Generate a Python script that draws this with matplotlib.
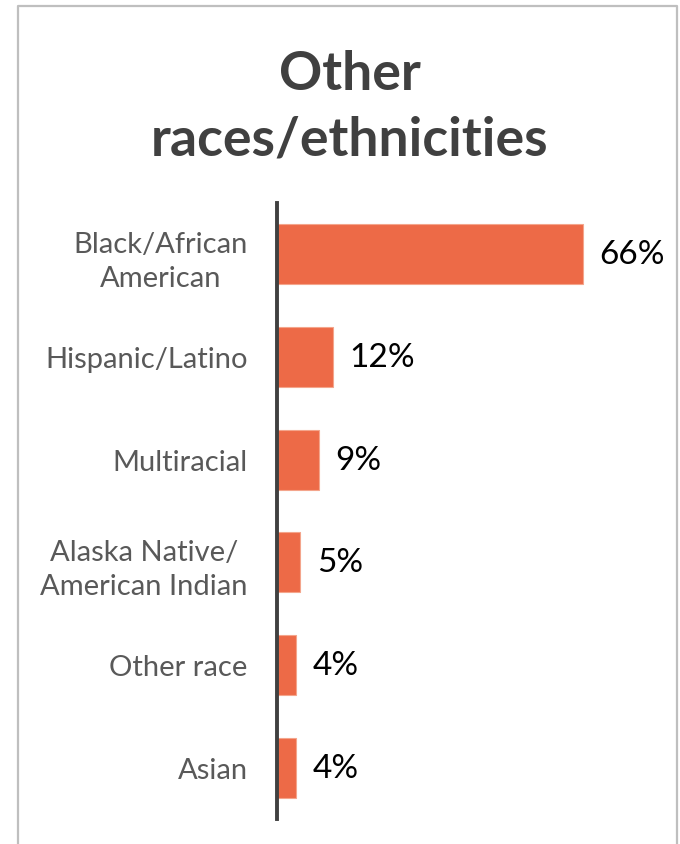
import matplotlib
matplotlib.use('Agg')
import matplotlib.pyplot as plt
from matplotlib.lines import Line2D

categories = ['Black/African\nAmerican', 'Hispanic/Latino', 'Multiracial',
              'Alaska Native/\nAmerican Indian', 'Other race', 'Asian']
values = [66, 12, 9, 5, 4, 4]
value_labels = ['66%', '12%', '9%', '5%', '4%', '4%']

plt.rcParams['font.family'] = ['Lato', 'DejaVu Sans']

W, H = 680, 845
fig = plt.figure(figsize=(W / 100, H / 100), dpi=100)

# light grey frame (no bottom edge)
x0, x1, y0 = 18 / W, 677 / W, 1 - 7 / H
fig.add_artist(Line2D([x0, x0, x1, x1], [0, y0, y0, 0], transform=fig.transFigure,
                      color='#BFBFBF', lw=1.6))

fig.text(350 / W, 1 - 90 / H, 'Other', ha='center', va='baseline',
         fontsize=38.5, fontweight='bold', color='#404040')
fig.text(350 / W, 1 - 156 / H, 'races/ethnicities', ha='center', va='baseline',
         fontsize=38.5, fontweight='bold', color='#404040')

left, right = 277, 660
top, bottom = 204, 820
ax = fig.add_axes([left / W, 1 - bottom / H, (right - left) / W, (bottom - top) / H])
y = list(range(len(categories)))
ax.barh(y, values, height=0.585, color='#ED6A47', edgecolor='#F4A58C', linewidth=0.8)
ax.set_ylim(len(categories) - 0.5, -0.5)
ax.set_xlim(0, 66 * (right - left) / (583 - left))

for yi, v, lab in zip(y, values, value_labels):
    ax.text(v + 3.6, yi, lab, va='center', ha='left', fontsize=24, color='black')

ax.set_yticks(y)
ax.set_yticklabels(categories, fontsize=21, color='#595959', multialignment='center',
                   linespacing=1.4)
ax.tick_params(axis='y', length=0, pad=21)
ax.set_xticks([])
for s in ['top', 'right', 'bottom']:
    ax.spines[s].set_visible(False)
ax.spines['left'].set_color('#404040')
ax.spines['left'].set_linewidth(2.8)

fig.savefig('out.png', dpi=100)
